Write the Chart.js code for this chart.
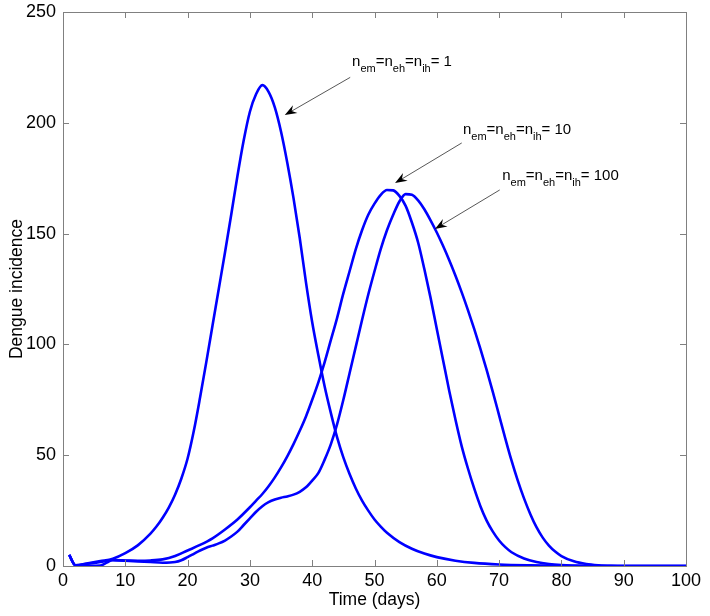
<!DOCTYPE html>
<html><head><meta charset="utf-8">
<script src="https://cdn.jsdelivr.net/npm/chart.js@4/dist/chart.umd.min.js"></script>
<style>html,body{margin:0;padding:0;background:#fff}#wrap{width:710px;height:616px}</style>
</head><body><div id="wrap"><canvas id="c" width="710" height="616"></canvas></div>
<script>
// Series n_em = n_eh = n_ih = 1
const days1 = [1,2,4,6,8,10,12,14,15,16,17,18,19,20,21,22,23,24,25,26,27,28,29,30,31,32,33,34,35,36,37,38,39,40,41,42,43,44,45,46,47,48,49,50,51,52,54,56,58,60,63,66,70,75,80,85,90,100];
const inc1  = [5,0.3,1.2,2.2,3.3,5.8,9.3,14.5,17.8,21.8,26.5,32.3,39.5,48.5,61,76,92,108.5,125,141.5,158.5,176,192,205,213,217,214,207,196,182,166,148,128,110,95,81,69,58,49,41.5,35,29.5,25,21,17.8,15,10.8,7.8,5.6,4,2.4,1.4,0.7,0.3,0.1,0,0,0];
// Series n_em = n_eh = n_ih = 10
const days10 = [1,2,4,6,8,10,12,14,16,18,20,22,24,26,28,30,31,32,33,34,35,36,37,38,39,40,41,42,43,44,45,46,47,48,49,50,51,52,53,54,55,56,57,58,59,60,61,62,63,64,65,66,67,68,69,70,71,72,74,76,78,80,84,90,100];
const inc10  = [5,0.3,1,1.8,2.6,2.5,2.4,2.5,3,4.5,7,9.5,12.5,16.5,21,26.5,29.5,32.5,36,40,44.5,49.5,55,61,67.5,75,83,92,102,112,123,133,143,151.5,158.5,163.5,167.5,169.7,169.5,167,162.5,155,146,134,121,107,93,79,66,54,44,35,27,20.5,15.5,11.5,8.5,6.2,3.4,1.8,0.9,0.45,0.1,0,0];
// Series n_em = n_eh = n_ih = 100
const days100 = [1,2,4,6,7,8,10,12,14,16,18,19,20,21,22,23,24,25,26,27,28,29,30,31,32,33,34,35,36,37,38,39,40,41,42,43,44,45,46,47,48,49,50,51,52,53,54,55,56,57,58,59,60,61,62,63,64,65,66,67,68,69,70,71,72,73,74,75,76,77,78,79,80,82,84,86,88,90,100];
const inc100  = [5,0.3,0.1,0.2,1.5,2.7,2.4,2.1,1.8,1.5,1.8,2.6,4,5.5,7,8.2,9.2,10.2,11.5,13.3,15.5,18.5,21.5,24.5,27,28.8,30,30.8,31.4,32.2,33.5,35.5,38.5,42,48,55,64,75,87,99,111,122.5,133,143,151.5,158.5,164.5,167.8,167.5,165,161,156,150.5,144.5,138,131,123.5,115.5,107,98,88.5,78.5,68,57.5,47.5,38.5,30.5,23.5,17.5,12.8,9.2,6.5,4.5,2.1,0.9,0.35,0.1,0,0];

const seriesDays = [days1, days10, days100];
const seriesInc = [inc1, inc10, inc100];
const seriesNames = ['1', '10', '100'];

const xTicks = [0,10,20,30,40,50,60,70,80,90,100];
const yTicks = [0,50,100,150,200,250];
const xTitle = 'Time (days)';
const yTitle = 'Dengue incidence';

// Annotation anchors (data coordinates)
const annotTextX = [46.4, 64.2, 70.5];
const annotTextY = [225.6, 195.0, 174.4];
const arrowTailX = [46.1, 64.0, 70.1];
const arrowTailY = [220.5, 190.9, 169.7];
const arrowTipX  = [35.6, 53.3, 59.7];
const arrowTipY  = [203.5, 172.8, 152.1];

const FONT = '"Liberation Sans", Arial, Helvetica, sans-serif';

const datasets = seriesDays.map((d, i) => ({
  label: 'n = ' + seriesNames[i],
  data: d.map((x, j) => ({x: x, y: seriesInc[i][j]})),
  showLine: true,
  borderColor: '#0000ff',
  backgroundColor: '#0000ff',
  borderWidth: 2.6,
  pointRadius: 0,
  cubicInterpolationMode: 'monotone',
  fill: false
}));

function drawRich(ctx, x, y, label) {
  const parts = [['n',0],['em',1],['=',0],['n',0],['eh',1],['=',0],['n',0],['ih',1],['= ' + label,0]];
  ctx.fillStyle = '#000';
  ctx.textBaseline = 'alphabetic';
  ctx.textAlign = 'left';
  for (const [t, sub] of parts) {
    ctx.font = (sub ? '11px ' : '15px ') + FONT;
    ctx.fillText(t, x, y + (sub ? 6 : 0));
    x += ctx.measureText(t).width;
  }
}

function drawArrow(ctx, x0, y0, x1, y1) {
  ctx.strokeStyle = '#444';
  ctx.lineWidth = 0.9;
  const ang = Math.atan2(y1 - y0, x1 - x0);
  const L = 12, W = 4.5, N = 8;
  const bx = x1 - L * Math.cos(ang), by = y1 - L * Math.sin(ang);
  ctx.beginPath(); ctx.moveTo(x0, y0);
  ctx.lineTo(x1 - N * Math.cos(ang), y1 - N * Math.sin(ang)); ctx.stroke();
  ctx.fillStyle = '#000';
  ctx.beginPath();
  ctx.moveTo(x1, y1);
  ctx.lineTo(bx - W * Math.sin(ang), by + W * Math.cos(ang));
  ctx.lineTo(x1 - N * Math.cos(ang), y1 - N * Math.sin(ang));
  ctx.lineTo(bx + W * Math.sin(ang), by - W * Math.cos(ang));
  ctx.closePath(); ctx.fill();
}

const framePlugin = {
  id: 'frame',
  afterDatasetsDraw(chart) {
    const {ctx, chartArea: a, scales} = chart;
    const xs = scales.x, ys = scales.y;
    ctx.save();
    ctx.strokeStyle = '#808080';
    ctx.lineWidth = 1;
    ctx.strokeRect(Math.round(a.left) + 0.5, Math.round(a.top) + 0.5, Math.round(a.right - a.left), Math.round(a.bottom - a.top));
    ctx.beginPath();
    const T = 6;
    xTicks.forEach(v => {
      const p = Math.round(xs.getPixelForValue(v)) + 0.5;
      ctx.moveTo(p, a.bottom); ctx.lineTo(p, a.bottom - T);
      ctx.moveTo(p, a.top); ctx.lineTo(p, a.top + T);
    });
    yTicks.forEach(v => {
      const p = Math.round(ys.getPixelForValue(v)) + 0.5;
      ctx.moveTo(a.left, p); ctx.lineTo(a.left + T, p);
      ctx.moveTo(a.right, p); ctx.lineTo(a.right - T, p);
    });
    ctx.stroke();
    for (let i = 0; i < seriesNames.length; i++) {
      drawArrow(ctx, xs.getPixelForValue(arrowTailX[i]), ys.getPixelForValue(arrowTailY[i]),
                xs.getPixelForValue(arrowTipX[i]), ys.getPixelForValue(arrowTipY[i]));
      drawRich(ctx, xs.getPixelForValue(annotTextX[i]), ys.getPixelForValue(annotTextY[i]), seriesNames[i]);
    }
    ctx.restore();
  }
};

new Chart(document.getElementById('c'), {
  type: 'scatter',
  data: {datasets},
  options: {
    responsive: false,
    animation: false,
    devicePixelRatio: 1,
    layout: {padding: {left: 0, top: 12, right: 24, bottom: 0}},
    plugins: {legend: {display: false}, tooltip: {enabled: false}},
    scales: {
      x: {
        type: 'linear', min: 0, max: 100,
        afterBuildTicks: s => { s.ticks = xTicks.map(v => ({value: v})); },
        afterFit: s => { s.height = 50; s.paddingLeft = 0; s.paddingRight = 0; },
        grid: {display: false, drawTicks: false}, border: {display: false},
        ticks: {color: '#000', font: {family: FONT, size: 18}, padding: 4, maxRotation: 0, autoSkip: false},
        title: {display: true, text: xTitle, color: '#000', font: {family: FONT, size: 17.5}, padding: {top: 0, bottom: 5}}
      },
      y: {
        type: 'linear', min: 0, max: 250,
        afterBuildTicks: s => { s.ticks = yTicks.map(v => ({value: v})); },
        afterFit: s => { s.width = 63; s.paddingTop = 0; s.paddingBottom = 0; },
        grid: {display: false, drawTicks: false}, border: {display: false},
        ticks: {color: '#000', font: {family: FONT, size: 18}, padding: 7, autoSkip: false},
        title: {display: true, text: yTitle, color: '#000', font: {family: FONT, size: 17.5}, padding: {top: 7, bottom: 0}}
      }
    }
  },
  plugins: [framePlugin]
});
</script></body></html>
